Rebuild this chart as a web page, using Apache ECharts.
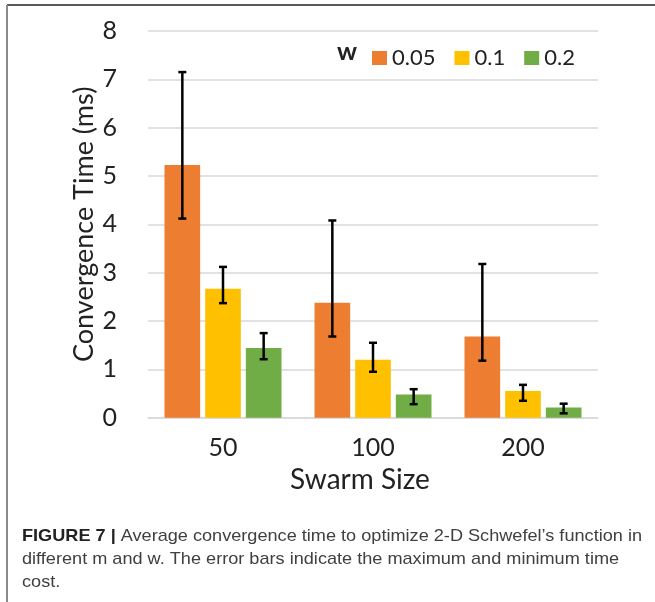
<!DOCTYPE html>
<html>
<head>
<meta charset="utf-8">
<script src="https://cdn.jsdelivr.net/npm/echarts@6/dist/echarts.min.js"></script>
<style>
html,body{margin:0;padding:0;background:#fff;}
#chart{width:655px;height:602px;}
</style>
</head>
<body>
<div id="chart"></div>
<script>
// ---- data ----
var categories = ['50', '100', '200'];
var seriesNames = ['0.05', '0.1', '0.2'];
var mean005 = [5.23, 2.38, 1.68];
var high005 = [7.15, 4.08, 3.18];
var low005  = [4.12, 1.68, 1.18];
var mean01  = [2.67, 1.20, 0.55];
var high01  = [3.12, 1.55, 0.68];
var low01   = [2.37, 0.95, 0.35];
var mean02  = [1.44, 0.48, 0.21];
var high02  = [1.75, 0.59, 0.29];
var low02   = [1.21, 0.28, 0.09];
var yTicks = [0, 1, 2, 3, 4, 5, 6, 7, 8];
var captionLines = [
  ['FIGURE 7 |', ' Average convergence time to optimize 2-D Schwefel\u2019s function in'],
  ['', 'different m and w. The error bars indicate the maximum and minimum time'],
  ['', 'cost.']
];

var means = [mean005, mean01, mean02];
var highs = [high005, high01, high02];
var lows  = [low005, low01, low02];
var colors = ['#ED7D31', '#FFC000', '#70AD47'];
var CAT_GAP = 0.22, BAR_GAP = 0.14;
var FONT = 'Lato';
var CAP_FONT = 'Liberation Sans';
var CAP_SIZE = 17;

// caption horizontal fit so line 1 spans the same width as the reference
var ctx = document.createElement('canvas').getContext('2d');
ctx.font = 'bold ' + CAP_SIZE + 'px "' + CAP_FONT + '"';
var wBold = ctx.measureText(captionLines[0][0]).width;
ctx.font = CAP_SIZE + 'px "' + CAP_FONT + '"';
var wReg = ctx.measureText(captionLines[0][1]).width;
var capScale = 620 / (wBold + wReg);

var chart = echarts.init(document.getElementById('chart'), null, {renderer: 'canvas'});

var series = [];
seriesNames.forEach(function (name, i) {
  series.push({
    name: name,
    type: 'bar',
    data: means[i],
    barGap: (BAR_GAP * 100) + '%',
    barCategoryGap: (CAT_GAP * 100) + '%',
    itemStyle: {color: colors[i]},
    z: 2
  });
});
seriesNames.forEach(function (name, i) {
  var errData = categories.map(function (c, k) { return [k, lows[i][k], highs[i][k]]; });
  series.push({
    type: 'custom',
    name: name + ' err',
    data: errData,
    z: 5,
    renderItem: function (params, api) {
      var k = api.value(0);
      var band = api.size([1, 0])[0];
      var bw = band * (1 - CAT_GAP) / (3 + 2 * BAR_GAP);
      var off = (i - 1) * bw * (1 + BAR_GAP);
      var lo = api.coord([k, api.value(1)]);
      var hi = api.coord([k, api.value(2)]);
      var x = lo[0] + off;
      var cap = 4;
      var st = {stroke: '#000', lineWidth: 2.5};
      return {
        type: 'group',
        children: [
          {type: 'line', shape: {x1: x, y1: lo[1], x2: x, y2: hi[1]}, style: st},
          {type: 'line', shape: {x1: x - cap, y1: lo[1], x2: x + cap, y2: lo[1]}, style: st},
          {type: 'line', shape: {x1: x - cap, y1: hi[1], x2: x + cap, y2: hi[1]}, style: st}
        ]
      };
    }
  });
});

var captionGraphics = captionLines.map(function (ln, j) {
  var txt = (ln[0] ? '{b|' + ln[0] + '}' : '') + ln[1];
  return {
    type: 'text', x: 22, y: 528 + j * 23, scaleX: capScale,
    style: {
      text: txt, fontFamily: CAP_FONT, fontSize: CAP_SIZE, fill: '#404040',
      rich: {b: {fontFamily: CAP_FONT, fontWeight: 'bold', fontSize: CAP_SIZE, fill: '#222'}}
    }
  };
});

var option = {
  animation: false,
  backgroundColor: '#fff',
  textStyle: {fontFamily: FONT},
  grid: {left: 148, right: 57, top: 31, bottom: 184.3, containLabel: false},
  legend: {
    data: seriesNames,
    left: 367,
    top: 42,
    icon: 'rect',
    itemWidth: 15,
    itemHeight: 14,
    itemGap: 19,
    textStyle: {fontFamily: FONT, fontSize: 22, color: '#222'}
  },
  xAxis: {
    type: 'category',
    data: categories,
    name: 'Swarm Size',
    nameLocation: 'middle',
    nameGap: 48,
    nameMoveOverlap: false,
    nameTextStyle: {fontFamily: FONT, fontSize: 28, color: '#222', padding: [0, 26, 0, 0]},
    axisLine: {show: true, lineStyle: {color: '#d9d9d9', width: 1.5}},
    axisTick: {show: false},
    axisLabel: {fontFamily: FONT, fontSize: 25, color: '#222', margin: 18}
  },
  yAxis: {
    type: 'value',
    min: yTicks[0],
    max: yTicks[yTicks.length - 1],
    interval: 1,
    name: 'Convergence Time (ms)',
    nameLocation: 'middle',
    nameGap: 50,
    nameMoveOverlap: false,
    nameTextStyle: {fontFamily: FONT, fontSize: 27, color: '#222'},
    axisLine: {show: false},
    axisTick: {show: false},
    axisLabel: {fontFamily: FONT, fontSize: 25, color: '#222', margin: 31},
    splitLine: {lineStyle: {color: '#d9d9d9', width: 1.5}}
  },
  graphic: [
    {type: 'line', shape: {x1: 7, y1: 5, x2: 655, y2: 5}, style: {stroke: '#222', lineWidth: 1.5}, z: 10},
    {type: 'line', shape: {x1: 7, y1: 5, x2: 7, y2: 602}, style: {stroke: '#8a8a8a', lineWidth: 2}, z: 10},
    {type: 'text', left: 337, top: 39, style: {text: 'w', fontFamily: FONT, fontWeight: 'bold', fontSize: 25, fill: '#222'}}
  ].concat(captionGraphics),
  series: series
};
chart.setOption(option);
</script>
</body>
</html>
